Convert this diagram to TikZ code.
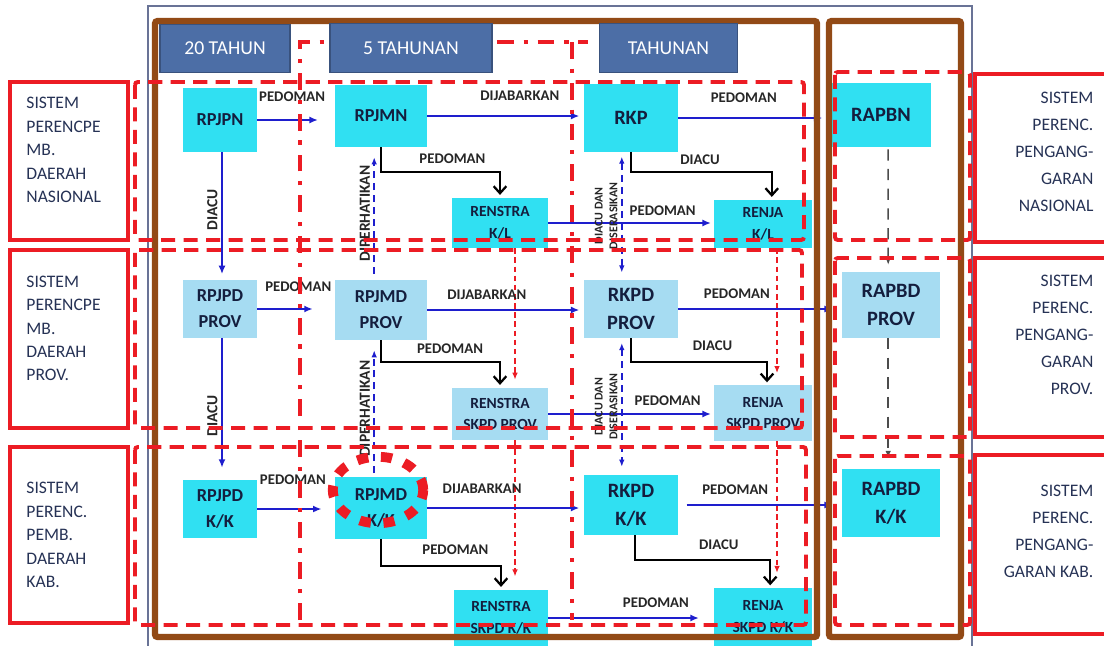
\documentclass[tikz,border=0pt]{standalone}
\usepackage{fontspec}
\setmainfont{Carlito}
\usetikzlibrary{arrows.meta}

\definecolor{cyanbox}{RGB}{48,224,242}
\definecolor{provbox}{RGB}{166,220,242}
\definecolor{hdrblue}{RGB}{76,110,166}
\definecolor{frbrown}{RGB}{146,74,22}
\definecolor{redline}{RGB}{236,28,36}
\definecolor{flowblue}{RGB}{30,30,205}
\definecolor{navytext}{RGB}{20,30,62}
\definecolor{systext}{RGB}{38,50,85}
\definecolor{thinframe}{RGB}{105,115,150}

\begin{document}
\begin{tikzpicture}[x=0.025cm, y=-0.025cm,
    plan/.style={rectangle, fill=cyanbox, text=navytext, align=center, inner sep=2pt, font=\bfseries\fontsize{13}{18.5}\selectfont},
    provplan/.style={plan, fill=provbox},
    bigtxt/.style={font=\bfseries\fontsize{14.5}{20}\selectfont},
    smalltxt/.style={font=\bfseries\fontsize{11}{15.5}\selectfont},
    period/.style={rectangle, fill=hdrblue, draw=hdrblue!75!black, line width=0.8pt, text=white, font=\fontsize{14}{16}\selectfont, minimum height=1.22cm},
    sysbox/.style={rectangle, draw=redline, line width=2.6pt},
    leftnote/.style={anchor=north west, inner sep=0pt, text=systext, align=left, font=\fontsize{12.5}{16.7}\selectfont},
    rightnote/.style={anchor=north east, inner sep=0pt, text=systext, align=right, font=\fontsize{12.5}{19.2}\selectfont},
    lbl/.style={font=\bfseries\fontsize{10.5}{12}\selectfont, text=black!85, inner sep=1.5pt},
    vlbl/.style={lbl, rotate=90, anchor=south, inner sep=2.5pt, font=\bfseries\fontsize{11}{12}\selectfont},
    dualtxt/.style={align=center, font=\bfseries\fontsize{8.5}{10.5}\selectfont},
    flow/.style={draw=flowblue, line width=1.4pt, -{Latex[length=6pt,width=5pt]}},
    backflow/.style={draw=flowblue, line width=1.1pt, dash pattern=on 5pt off 3.5pt, -{Latex[length=5pt,width=4pt]}},
    bothflow/.style={backflow, {Latex[length=5pt,width=4pt]}-{Latex[length=5pt,width=4pt]}},
    elbow/.style={draw=black, line width=1.6pt, -{Straight Barb[length=5pt,width=9pt]}},
    redflow/.style={draw=redline, line width=1.1pt, dash pattern=on 4pt off 2.5pt, -{Latex[length=5pt,width=4pt]}},
    grayflow/.style={draw=black!70, line width=1.1pt, dash pattern=on 8pt off 6pt, -{Latex[length=5pt,width=4pt]}},
    rowbox/.style={draw=redline, line width=2.8pt, dash pattern=on 10pt off 6pt, rounded corners=2pt},
    fivecol/.style={draw=redline, line width=3.4pt, dash pattern=on 12pt off 7pt on 3pt off 7pt},
    brownframe/.style={draw=frbrown, line width=4.6pt, rounded corners=2pt},
    hotring/.style={draw=redline, line width=7pt, dash pattern=on 8pt off 9pt}
]
\useasboundingbox (0,0) rectangle (1104,645);
\clip (0,0) rectangle (1104,645);

\draw[thinframe, line width=0.8pt] (148,6) rectangle (972,660);

% Nasional
\node[plan, minimum width=1.85cm, minimum height=1.6cm] (rpjpn) at (220,120) {RPJPN};
\node[plan, minimum width=2.3cm, minimum height=1.55cm] (rpjmn) at (381,116) {RPJMN};
\node[plan, bigtxt, minimum width=2.33cm, minimum height=1.68cm] (rkp) at (631,118) {RKP};
\node[plan, bigtxt, minimum width=2.48cm, minimum height=1.6cm] (rapbn) at (881,115) {RAPBN};
\node[plan, smalltxt, minimum width=2.4cm, minimum height=1.25cm] (renstraKL) at (500,223) {RENSTRA\\K/L};
\node[plan, smalltxt, minimum width=2.43cm, minimum height=1.2cm] (renjaKL) at (763,224) {RENJA\\K/L};

% Provinsi
\node[provplan, minimum width=1.85cm, minimum height=1.43cm] (rpjpdProv) at (220,309) {RPJPD\\PROV};
\node[provplan, minimum width=2.3cm, minimum height=1.5cm] (rpjmdProv) at (381,310) {RPJMD\\PROV};
\node[provplan, bigtxt, minimum width=2.33cm, minimum height=1.45cm] (rkpdProv) at (631,309) {RKPD\\PROV};
\node[provplan, bigtxt, minimum width=2.45cm, minimum height=1.63cm] (rapbdProv) at (891,305) {RAPBD\\PROV};
\node[provplan, smalltxt, minimum width=2.4cm, minimum height=1.3cm] (renstraProv) at (500,414) {RENSTRA\\SKPD PROV};
\node[provplan, smalltxt, minimum width=2.43cm, minimum height=1.38cm] (renjaProv) at (763,413) {RENJA\\SKPD PROV};

% Kabupaten/Kota
\node[plan, minimum width=1.85cm, minimum height=1.45cm] (rpjpdKK) at (220,509) {RPJPD\\K/K};
\node[plan, minimum width=2.3cm, minimum height=1.53cm] (rpjmdKK) at (381,508) {RPJMD\\K/K};
\node[plan, bigtxt, minimum width=2.33cm, minimum height=1.5cm] (rkpdKK) at (631,505) {RKPD\\K/K};
\node[plan, bigtxt, minimum width=2.45cm, minimum height=1.68cm] (rapbdKK) at (891,503) {RAPBD\\K/K};
\node[plan, smalltxt, minimum width=2.33cm, minimum height=1.4cm] (renstraKK) at (501,618) {RENSTRA\\SKPD K/K};
\node[plan, smalltxt, minimum width=2.43cm, minimum height=1.43cm] (renjaKK) at (763,617) {RENJA\\SKPD K/K};

% Row 1 links
\draw[flow, shorten >=0.42cm] (rpjpn.east) -- node[lbl, above=11pt, pos=0.45] {PEDOMAN} (rpjpn.east -| rpjmn.west);
\draw[flow, shorten >=0.12cm] (rpjmn.east) -- node[lbl, above=9pt, pos=0.59] {DIJABARKAN} (rpjmn.east -| rkp.west);
\draw[flow, shorten >=0.22cm] (rkp.east) -- node[lbl, above=8.5pt, pos=0.43] {PEDOMAN} (rkp.east -| rapbn.west);
\draw[elbow, shorten >=2pt] (rpjmn.south) -- ++(0,25) -| node[lbl, above=4pt, pos=0.3] {PEDOMAN} (renstraKL.north);
\draw[elbow, shorten >=2pt] (rkp.south) -- ++(0,20) -| node[lbl, above=3pt, pos=0.245] {DIACU} ([xshift=0.22cm]renjaKL.north);
\draw[flow, shorten >=0.08cm] (renstraKL.east) -- node[lbl, above=3pt, pos=0.69] {PEDOMAN} (renstraKL.east -| renjaKL.west);

% Row 1 to row 2
\draw[flow, shorten >=0.15cm] ([xshift=0.05cm]rpjpn.south) -- node[vlbl, pos=0.45] {DIACU} ([xshift=0.05cm]rpjpdProv.north);
\draw[backflow, shorten <=0.15cm, shorten >=0.25cm] ([xshift=-0.17cm]rpjmdProv.north) -- node[vlbl] {DIPERHATIKAN} ([xshift=-0.17cm]rpjmn.south);
\draw[bothflow, shorten <=0.12cm, shorten >=0.18cm] ([xshift=-0.23cm]rkp.south) -- node[vlbl, dualtxt] {DIACU DAN\\DISERASIKAN} ([xshift=-0.23cm]rkpdProv.north);
\draw[grayflow, shorten <=0.05cm, shorten >=0.18cm] ([xshift=0.18cm]rapbn.south) -- ([xshift=-0.07cm]rapbdProv.north);
\draw[redflow, shorten >=0.2cm] ([xshift=0.375cm]renstraKL.south) -- ([xshift=0.375cm]renstraProv.north);
\draw[redflow, shorten >=0.3cm] ([xshift=0.35cm]renjaKL.south) -- ([xshift=0.35cm]renjaProv.north);

% Row 2 links
\draw[flow, shorten >=0.55cm] (rpjpdProv.east) -- node[lbl, above=10.5pt, pos=0.53] {PEDOMAN} (rpjpdProv.east -| rpjmdProv.west);
\draw[flow, shorten >=0.12cm] (rpjmdProv.east) -- node[lbl, above=5pt, pos=0.38] {DIJABARKAN} (rpjmdProv.east -| rkpdProv.west);
\draw[flow, shorten >=0.22cm] (rkpdProv.east) -- node[lbl, above=5.5pt, pos=0.36] {PEDOMAN} (rkpdProv.east -| rapbdProv.west);
\draw[elbow, shorten >=2pt] (rpjmdProv.south) -- ++(0,22) -| node[lbl, above=4pt, pos=0.29] {PEDOMAN} (renstraProv.north);
\draw[elbow, shorten >=2pt] (rkpdProv.south) -- ++(0,24) -| node[lbl, above=6pt, pos=0.3] {DIACU} ([xshift=0.1cm]renjaProv.north);
\draw[flow, shorten >=0.08cm] (renstraProv.east) -- node[lbl, above=3.5pt, pos=0.72] {PEDOMAN} (renstraProv.east -| renjaProv.west);

% Row 2 to row 3
\draw[flow, shorten >=0.3cm] ([xshift=0.05cm]rpjpdProv.south) -- node[vlbl, pos=0.55] {DIACU} ([xshift=0.05cm]rpjpdKK.north);
\draw[backflow, shorten <=0.1cm, shorten >=0.25cm] ([xshift=-0.17cm]rpjmdKK.north) -- node[vlbl] {DIPERHATIKAN} ([xshift=-0.17cm]rpjmdProv.south);
\draw[bothflow, shorten <=0.12cm, shorten >=0.2cm] ([xshift=-0.23cm]rkpdProv.south) -- node[vlbl, dualtxt] {DIACU DAN\\DISERASIKAN} ([xshift=-0.23cm]rkpdKK.north);
\draw[grayflow, shorten >=0.28cm] ([xshift=-0.07cm]rapbdProv.south) -- ([xshift=-0.07cm]rapbdKK.north);
\draw[redflow, shorten >=0.33cm] ([xshift=0.375cm]renstraProv.south) -- ([xshift=0.35cm]renstraKK.north);
\draw[redflow, shorten >=0.38cm] ([xshift=0.35cm]renjaProv.south) -- ([xshift=0.35cm]renjaKK.north);

% Row 3 links
\draw[flow, shorten >=0.33cm] (rpjpdKK.east) -- node[lbl, above=15pt, pos=0.46] {PEDOMAN} (rpjpdKK.east -| rpjmdKK.west);
\draw[flow, shorten >=0.12cm] (rpjmdKK.east) -- node[lbl, above=8pt, pos=0.35] {DIJABARKAN} (rpjmdKK.east -| rkpdKK.west);
\draw[flow, shorten <=0.22cm, shorten >=0.22cm] (rkpdKK.east) -- node[lbl, above=5pt, pos=0.35] {PEDOMAN} (rkpdKK.east -| rapbdKK.west);
\draw[elbow, shorten >=2pt] (rpjmdKK.south) -- ++(0,27) -| node[lbl, above=6pt, pos=0.31] {PEDOMAN} (renstraKK.north);
\draw[elbow, shorten >=2pt] ([xshift=0.1cm]rkpdKK.south) -- ++(0,25) -| node[lbl, above=5pt, pos=0.31] {DIACU} ([xshift=0.18cm]renjaKK.north);
\draw[flow, shorten >=0.38cm] (renstraKK.east) -- node[lbl, above=5.5pt, pos=0.65] {PEDOMAN} (renstraKK.east -| renjaKK.west);

% Frames
\draw[brownframe] (155,21) rectangle (817,637);
\draw[brownframe] (829,21) rectangle (961,637);

% Levels
\draw[rowbox] (135,82) rectangle (804,240);
\draw[rowbox] (135,250) rectangle (802,428);
\draw[rowbox] (135,447) rectangle (806,625);
\draw[rowbox] (835,72) rectangle (970,240);
\draw[rowbox] (835,258) rectangle (970,437);
\draw[rowbox] (835,456) rectangle (970,625);
\draw[fivecol] (300,620) -- (300,42) -- (588,42);
\draw[fivecol] (572,42) -- (572,620);

% Periods
\node[period, minimum width=3.25cm] (h20) at (225,48.5) {20 TAHUN};
\node[period, minimum width=4.05cm] (h5) at (411,48) {5 TAHUNAN};
\node[period, minimum width=3.43cm] (h1) at (668.5,48) {TAHUNAN};

% Systems
\node[sysbox, minimum width=2.95cm, minimum height=3.95cm] (sysNas) at (69,161) {};
\node[sysbox, minimum width=2.95cm, minimum height=4.45cm] (sysProv) at (69,339) {};
\node[sysbox, minimum width=2.95cm, minimum height=4.4cm] (sysKab) at (69,535) {};
\node[leftnote] (sysNasTxt) at ([xshift=0.45cm, yshift=-0.42cm]sysNas.north west) {SISTEM\\PERENCPE\\MB.\\DAERAH\\NASIONAL};
\node[leftnote] (sysProvTxt) at ([xshift=0.45cm, yshift=-0.68cm]sysProv.north west) {SISTEM\\PERENCPE\\MB.\\DAERAH\\PROV.};
\node[leftnote] (sysKabTxt) at ([xshift=0.45cm, yshift=-0.92cm]sysKab.north west) {SISTEM\\PERENC.\\PEMB.\\DAERAH\\KAB.};

\node[sysbox, minimum width=3.5cm, minimum height=4.2cm] (angNas) at (1045,158) {};
\node[sysbox, minimum width=3.5cm, minimum height=4.48cm] (angProv) at (1045,347.5) {};
\node[sysbox, minimum width=3.5cm, minimum height=4.48cm] (angKab) at (1045,544.5) {};
\node[rightnote] (angNasTxt) at ([xshift=-0.58cm, yshift=-0.48cm]angNas.north east) {SISTEM\\PERENC.\\PENGANG-\\GARAN\\NASIONAL};
\node[rightnote] (angProvTxt) at ([xshift=-0.58cm, yshift=-0.48cm]angProv.north east) {SISTEM\\PERENC.\\PENGANG-\\GARAN\\PROV.};
\node[rightnote] (angKabTxt) at ([xshift=-0.58cm, yshift=-0.8cm]angKab.north east) {SISTEM\\PERENC.\\PENGANG-\\GARAN KAB.};

% Highlight
\draw[hotring] (378,490) ellipse [x radius=1.13cm, y radius=0.83cm];

\end{tikzpicture}
\end{document}
